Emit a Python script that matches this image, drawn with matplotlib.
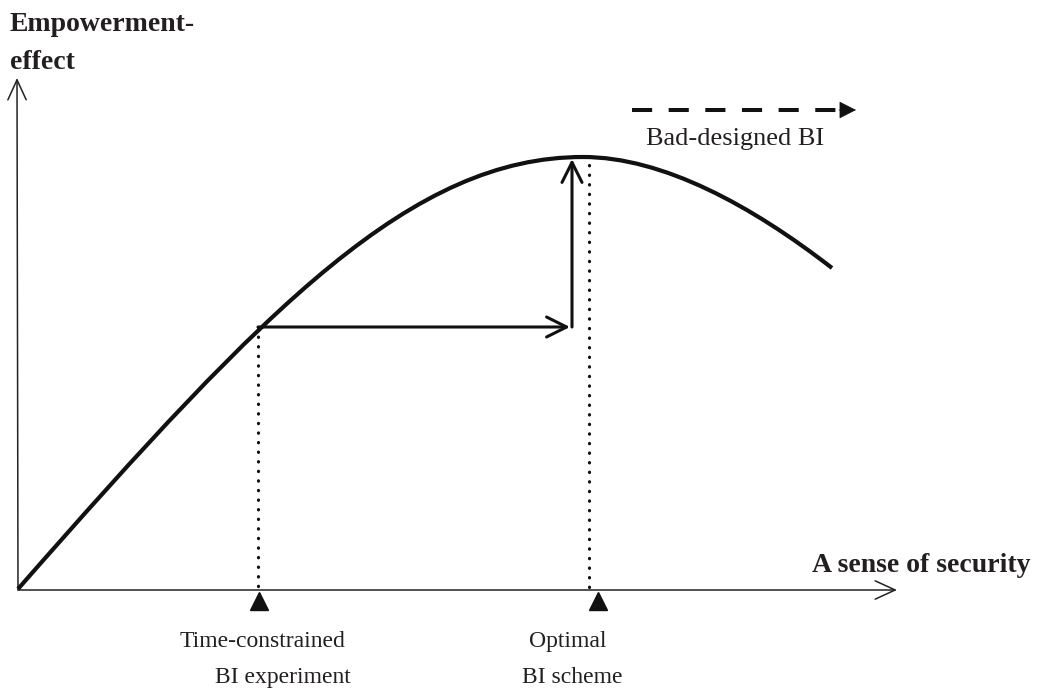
import matplotlib
matplotlib.use("Agg")
import matplotlib.pyplot as plt
from matplotlib.path import Path
from matplotlib.patches import PathPatch

# canvas is laid out in pixel units of the original picture (y grows downwards)
W, H = 1039, 691

# empowerment curve: two cubic pieces (anchor, control, control, anchor, ...)
curve_x = [18, 268, 413, 583, 663, 752, 832]
curve_y = [589, 304, 157, 157, 157, 206, 268]

origin = (18, 590)
y_axis_top = (17, 78)
x_axis_end = (897, 590)

# time-constrained experiment point and the optimal point
experiment = (258, 327)
shift_end_x = 570
optimal_arrow_x = 572
optimal_top_y = 159
optimal_dotted_x = 589

marker_x = [259, 598]
marker_y = [601, 601]

bad_arrow_x = [632, 856]
bad_arrow_y = 110

serif = "Liberation Serif"
ink = "#111111"
text_ink = "#231f20"

fig = plt.figure(figsize=(W / 100, H / 100), dpi=100)
ax = fig.add_axes([0, 0, 1, 1])
ax.set_xlim(0, W)
ax.set_ylim(H, 0)
ax.axis("off")

# axes with open arrow heads
axis_style = dict(arrowstyle="->,head_length=0.72,head_width=0.33", lw=1.1,
                  color="#222222", shrinkA=0, shrinkB=0, mutation_scale=20)
ax.annotate("", xy=y_axis_top, xytext=origin, arrowprops=axis_style,
            annotation_clip=False)
ax.annotate("", xy=x_axis_end, xytext=origin, arrowprops=axis_style,
            annotation_clip=False)

# the curve
codes = [Path.MOVETO] + [Path.CURVE4] * (len(curve_x) - 1)
curve = Path(list(zip(curve_x, curve_y)), codes)
ax.add_patch(PathPatch(curve, facecolor="none", edgecolor=ink, lw=3.0,
                       capstyle="butt", zorder=5))

# dotted guide lines
dot_style = dict(color=ink, lw=2.3, linestyle=(0, (0.1, 2.9)),
                 dash_capstyle="round", zorder=3)
ax.plot([experiment[0], experiment[0]], [experiment[1], origin[1]], **dot_style)
ax.plot([optimal_dotted_x, optimal_dotted_x], [optimal_top_y + 6, origin[1]], **dot_style)

# shift arrows
shift_style = dict(arrowstyle="->,head_length=0.72,head_width=0.36", lw=2.2,
                   color=ink, shrinkA=0, shrinkB=0, mutation_scale=20)
ax.annotate("", xy=(shift_end_x, experiment[1]), xytext=experiment,
            arrowprops=shift_style)
ax.annotate("", xy=(optimal_arrow_x, optimal_top_y),
            xytext=(optimal_arrow_x, experiment[1]), arrowprops=shift_style)

# triangles under the x axis
ax.plot(marker_x, marker_y, linestyle="none", marker="^", markersize=13,
        color=ink, clip_on=False)

# bad-designed BI dashed arrow
ax.plot([bad_arrow_x[0], bad_arrow_x[1] - 15], [bad_arrow_y, bad_arrow_y],
        color=ink, lw=2.9, linestyle=(0, (5.0, 4.1)), solid_capstyle="butt")
ax.annotate("", xy=(bad_arrow_x[1], bad_arrow_y),
            xytext=(bad_arrow_x[1] - 17, bad_arrow_y),
            arrowprops=dict(arrowstyle="-|>,head_length=0.55,head_width=0.28",
                            lw=0.5, color=ink, shrinkA=0, shrinkB=0,
                            mutation_scale=20))

# texts
ax.text(10, 31, "Empowerment-", fontsize=20, fontweight="bold", family=serif,
        color=text_ink, va="baseline", ha="left")
ax.text(10, 69, "effect", fontsize=20, fontweight="bold", family=serif,
        color=text_ink, va="baseline", ha="left")
ax.text(812, 572, "A sense of security", fontsize=20, fontweight="bold",
        family=serif, color=text_ink, va="baseline", ha="left")
ax.text(646, 145, "Bad-designed BI", fontsize=19, family=serif,
        color=text_ink, va="baseline", ha="left")

ax.text(262, 647, "Time-constrained", fontsize=17, family=serif,
        color=text_ink, va="baseline", ha="center")
ax.text(283, 683, "BI experiment", fontsize=17, family=serif,
        color=text_ink, va="baseline", ha="center")
ax.text(568, 647, "Optimal", fontsize=17, family=serif,
        color=text_ink, va="baseline", ha="center")
ax.text(572, 683, "BI scheme", fontsize=17, family=serif,
        color=text_ink, va="baseline", ha="center")

fig.savefig("out.png", dpi=100)
